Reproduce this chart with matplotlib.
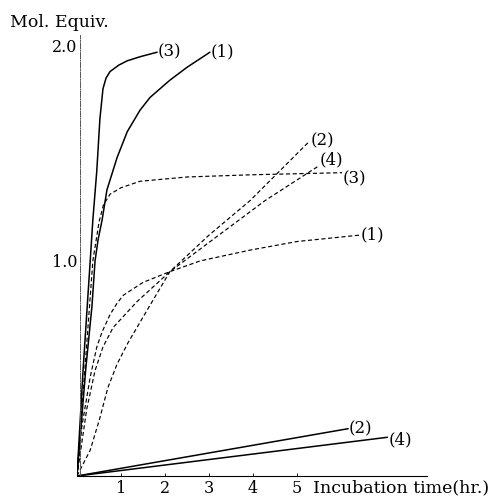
import matplotlib
matplotlib.use("Agg")
import matplotlib.pyplot as plt

# incubation time (hr.) and mol. equiv.
t_solid1 = [0, 0.2, 0.34, 0.41, 0.48, 0.57, 0.68, 0.91, 1.14, 1.43, 1.66, 2.11, 2.5, 3.02]
v_solid1 = [0, 0.5, 0.79, 1.0, 1.10, 1.19, 1.33, 1.48, 1.60, 1.70, 1.76, 1.84, 1.90, 1.97]

t_solid3 = [0, 0.14, 0.30, 0.36, 0.45, 0.52, 0.59, 0.66, 0.75, 0.95, 1.14, 1.45, 1.82]
v_solid3 = [0, 0.5, 1.0, 1.19, 1.42, 1.66, 1.80, 1.85, 1.88, 1.91, 1.93, 1.95, 1.97]

t_solid2 = [0, 6.16]
v_solid2 = [0, 0.22]
t_solid4 = [0, 7.05]
v_solid4 = [0, 0.18]

t_dash1 = [0, 0.11, 0.3, 0.45, 0.57, 0.75, 0.9, 1.05, 1.5, 2.11, 2.8, 3.93, 5.0, 6.43]
v_dash1 = [0, 0.23, 0.46, 0.60, 0.67, 0.75, 0.80, 0.84, 0.90, 0.95, 1.00, 1.05, 1.09, 1.12]

t_dash2 = [0, 0.30, 0.52, 0.70, 0.91, 1.16, 1.59, 2.11, 3.0, 3.93, 5.25]
v_dash2 = [0, 0.12, 0.27, 0.41, 0.52, 0.62, 0.77, 0.95, 1.12, 1.28, 1.55]

t_dash3 = [0, 0.18, 0.36, 0.5, 0.6, 0.75, 1.0, 1.43, 2.5, 3.93, 6.02]
v_dash3 = [0, 0.5, 1.0, 1.18, 1.26, 1.31, 1.34, 1.37, 1.39, 1.40, 1.41]

t_dash4 = [0, 0.22, 0.41, 0.59, 0.82, 1.36, 2.11, 4.27, 5.48]
v_dash4 = [0, 0.31, 0.49, 0.60, 0.69, 0.81, 0.95, 1.28, 1.44]

x_ticks = [1, 2, 3, 4, 5]
y_ticks = [1.0, 2.0]

plt.rcParams['font.family'] = ['DejaVu Serif']

fig = plt.figure(figsize=(4.96, 5.03), dpi=100)
ax = fig.add_axes([77 / 496, 27 / 503, 350 / 496, 441 / 503])
ax.set_xlim(0, 7.95)
ax.set_ylim(0, 2.05)

dash = (0, (3.5, 2.2))
solid_kw = dict(color='black', lw=1.1, solid_capstyle='round')
dash_kw = dict(color='black', lw=0.85, linestyle=dash)

ax.plot(t_solid1, v_solid1, **solid_kw)
ax.plot(t_solid3, v_solid3, **solid_kw)
ax.plot(t_solid2, v_solid2, **solid_kw)
ax.plot(t_solid4, v_solid4, **solid_kw)
ax.plot(t_dash1, v_dash1, **dash_kw)
ax.plot(t_dash2, v_dash2, **dash_kw)
ax.plot(t_dash3, v_dash3, **dash_kw)
ax.plot(t_dash4, v_dash4, **dash_kw)

# curve labels at the end of each line
fs = 12
def label(t, v, s, dx=0.02, dy=0.0):
    ax.text(t[-1] + dx, v[-1] + dy, s, fontsize=fs, ha='left', va='center')

label(t_solid1, v_solid1, '(1)')
label(t_solid3, v_solid3, '(3)')
label(t_solid2, v_solid2, '(2)', dy=0.0)
label(t_solid4, v_solid4, '(4)', dy=-0.01)
label(t_dash1, v_dash1, '(1)')
label(t_dash2, v_dash2, '(2)', dx=0.05, dy=0.01)
label(t_dash3, v_dash3, '(3)', dy=-0.03)
label(t_dash4, v_dash4, '(4)', dy=0.03)

for s in ['top', 'right']:
    ax.spines[s].set_visible(False)
ax.spines['left'].set_linestyle((0, (6, 1.5, 1, 1.5)))
ax.spines['left'].set_linewidth(0.7)
ax.spines['left'].set_color('#555555')
ax.spines['left'].set_position(('data', 0.07))
ax.spines['bottom'].set_linewidth(0.8)

ax.set_xticks(x_ticks)
ax.set_xticklabels([str(x) for x in x_ticks], fontsize=11.5)
ax.set_yticks(y_ticks)
ax.set_yticklabels(['%.1f' % y for y in y_ticks], fontsize=11.5)
ax.tick_params(axis='x', length=2, width=0.6, direction='in', pad=3)
ax.tick_params(axis='y', length=0, pad=2)

ax.text(5.35, -0.055, 'Incubation time(hr.)', fontsize=12.5, ha='left', va='center')
ax.text(-1.52, 2.11, 'Mol. Equiv.', fontsize=12.5, ha='left', va='center')
for t in ax.texts:
    t.set_clip_on(False)

fig.savefig('out.png', dpi=100)
